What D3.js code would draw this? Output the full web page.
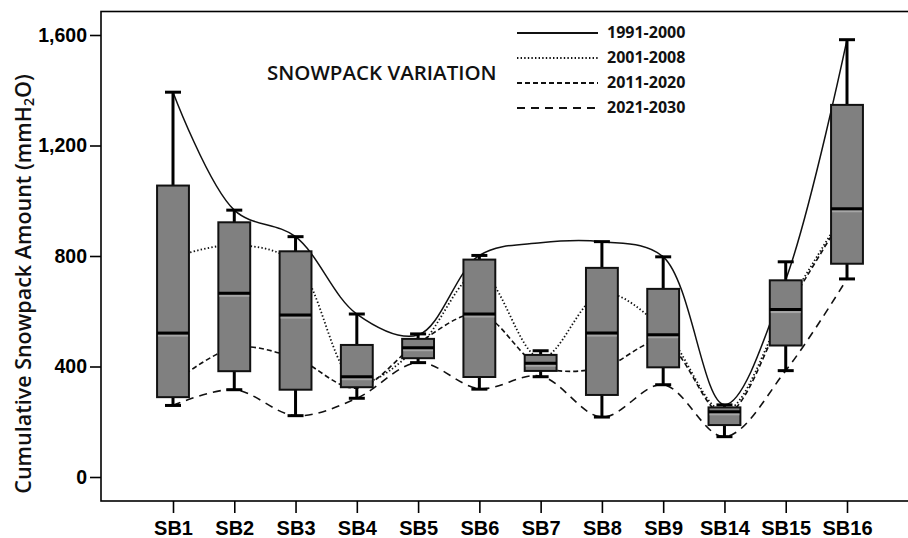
<!DOCTYPE html>
<html>
<head>
<meta charset="utf-8">
<script src="https://cdn.jsdelivr.net/npm/d3@7"></script>
<style>
  body { margin: 0; background: #fff; }
  svg { display: block; }
</style>
</head>
<body>
<svg id="chart_svg"></svg>
<script>
// basins on the x axis
const categories = ["SB1", "SB2", "SB3", "SB4", "SB5", "SB6", "SB7", "SB8", "SB9", "SB14", "SB15", "SB16"];

// box plot summary per basin (mmH2O)
const whiskerLow  = [259, 316, 222, 285, 414, 318, 363, 217, 334, 146, 385, 717];
const q1          = [289, 383, 316, 325, 430, 362, 384, 297, 397, 188, 476, 772];
const median      = [521, 665, 586, 363, 468, 590, 412, 521, 515, 236, 606, 971];
const q3          = [1055, 922, 817, 478, 500, 787, 442, 757, 681, 252, 712, 1347];
const whiskerHigh = [1393, 966, 870, 590, 518, 802, 457, 852, 797, 261, 779, 1583];

// period curves
const periods = ["1991-2000", "2001-2008", "2011-2020", "2021-2030"];
const p1991 = [1393, 966, 870, 590, 514, 802, 848, 852, 797, 262, 714, 1583];
const p2001 = [795, 840, 775, 345, 470, 740, 430, 665, 535, 238, 612, 975];
const p2011 = [340, 468, 430, 322, 485, 590, 400, 395, 490, 226, 600, 965];
const p2021 = [259, 316, 222, 285, 414, 320, 365, 217, 334, 146, 385, 717];

const yTicks = [0, 400, 800, 1200, 1600];

const width = 908, height = 538;
const svg = d3.select("#chart_svg")
  .attr("width", width)
  .attr("height", height);

const x = d3.scalePoint().domain(categories).range([173, 847]);
const y = d3.scaleLinear().domain([0, 1600]).range([477, 35]);
const boxW = x.step() * 0.52;

// frame (right side runs off the page)
svg.append("rect")
  .attr("x", 101).attr("y", 11.5)
  .attr("width", 840).attr("height", 489.5)
  .attr("fill", "none")
  .attr("stroke", "#000")
  .attr("stroke-width", 1.6);

// axes
const yAxis = svg.append("g")
  .attr("transform", "translate(101,0)")
  .call(d3.axisLeft(y).tickValues(yTicks).tickFormat(d3.format(",")).tickSize(11).tickPadding(3));
yAxis.select(".domain").remove();
yAxis.selectAll("line").attr("stroke-width", 1.6);
yAxis.selectAll("text")
  .attr("font-family", "Liberation Sans, Arial, sans-serif")
  .attr("font-weight", "bold")
  .attr("font-size", 19.5)
  .attr("fill", "#000");

const xAxis = svg.append("g")
  .attr("transform", "translate(0,501)")
  .call(d3.axisBottom(x).tickSize(12).tickPadding(8));
xAxis.select(".domain").remove();
xAxis.selectAll("line").attr("stroke-width", 1.6);
xAxis.selectAll("text")
  .attr("font-family", "Liberation Sans, Arial, sans-serif")
  .attr("font-weight", "bold")
  .attr("font-size", 20)
  .attr("fill", "#000");

// y axis title
const yTitle = svg.append("text")
  .attr("transform", "translate(31,284) rotate(-90)")
  .attr("text-anchor", "middle")
  .attr("font-family", "Open Sans, sans-serif")
  .attr("font-weight", 600)
  .attr("font-size", 21.5)
  .attr("fill", "#111");
yTitle.append("tspan").text("Cumulative Snowpack Amount (mmH");
yTitle.append("tspan").attr("font-size", 14).attr("dy", 3).text("2");
yTitle.append("tspan").attr("dy", -3).text("O)");

// chart title
svg.append("text")
  .attr("x", 267).attr("y", 80)
  .attr("font-family", "Open Sans, sans-serif")
  .attr("font-weight", 600)
  .attr("font-size", 20.5)
  .attr("fill", "#111")
  .text("SNOWPACK VARIATION");

// period lines (drawn under the boxes)
const styles = [
  { data: p1991, dash: null, w: 1.5 },
  { data: p2001, dash: "1.4,2.2", w: 1.8 },
  { data: p2011, dash: "5,3", w: 1.6 },
  { data: p2021, dash: "8,6", w: 1.6 }
];

const line = d3.line()
  .x((d, i) => x(categories[i]))
  .y(d => y(d))
  .curve(d3.curveCatmullRom.alpha(0.5));

svg.append("g")
  .attr("class", "periods")
  .selectAll("path")
  .data(styles)
  .enter().append("path")
  .attr("d", d => line(d.data))
  .attr("fill", "none")
  .attr("stroke", "#111")
  .attr("stroke-width", d => d.w)
  .attr("stroke-dasharray", d => d.dash);

// boxes
const boxData = categories.map((c, i) => ({
  cat: c, lo: whiskerLow[i], q1: q1[i], med: median[i], q3: q3[i], hi: whiskerHigh[i]
}));

const box = svg.append("g")
  .attr("class", "boxes")
  .selectAll("g")
  .data(boxData)
  .enter().append("g")
  .attr("transform", d => `translate(${x(d.cat)},0)`);

box.append("line")
  .attr("y1", d => y(d.hi)).attr("y2", d => y(d.q3))
  .attr("stroke", "#000").attr("stroke-width", 3);
box.append("line")
  .attr("y1", d => y(d.q1)).attr("y2", d => y(d.lo))
  .attr("stroke", "#000").attr("stroke-width", 3);
box.append("line")
  .attr("x1", -8).attr("x2", 8)
  .attr("y1", d => y(d.hi)).attr("y2", d => y(d.hi))
  .attr("stroke", "#000").attr("stroke-width", 3);
box.append("line")
  .attr("x1", -8).attr("x2", 8)
  .attr("y1", d => y(d.lo)).attr("y2", d => y(d.lo))
  .attr("stroke", "#000").attr("stroke-width", 3);

box.append("rect")
  .attr("x", -boxW / 2)
  .attr("width", boxW)
  .attr("y", d => y(d.q3))
  .attr("height", d => y(d.q1) - y(d.q3))
  .attr("fill", "#808080")
  .attr("stroke", "#111")
  .attr("stroke-width", 2);

// light band under the median, like the original rendering
box.append("line")
  .attr("x1", -boxW / 2 + 1).attr("x2", boxW / 2 - 1)
  .attr("y1", d => y(d.med) + 2.5).attr("y2", d => y(d.med) + 2.5)
  .attr("stroke", "#a6a6a6").attr("stroke-width", 2);
box.append("line")
  .attr("x1", -boxW / 2).attr("x2", boxW / 2)
  .attr("y1", d => y(d.med)).attr("y2", d => y(d.med))
  .attr("stroke", "#000").attr("stroke-width", 3);

// legend
const legend = svg.append("g")
  .attr("class", "legend")
  .selectAll("g")
  .data(styles)
  .enter().append("g")
  .attr("transform", (d, i) => `translate(517,${33 + i * 25})`);

legend.append("line")
  .attr("x1", 0).attr("x2", 81)
  .attr("stroke", "#111")
  .attr("stroke-width", d => d.w + 0.4)
  .attr("stroke-dasharray", d => d.dash);

legend.append("text")
  .attr("x", 90).attr("y", 5)
  .attr("font-family", "Open Sans, sans-serif")
  .attr("font-weight", "bold")
  .attr("font-size", 16)
  .attr("fill", "#111")
  .text((d, i) => periods[i]);
</script>
</body>
</html>
